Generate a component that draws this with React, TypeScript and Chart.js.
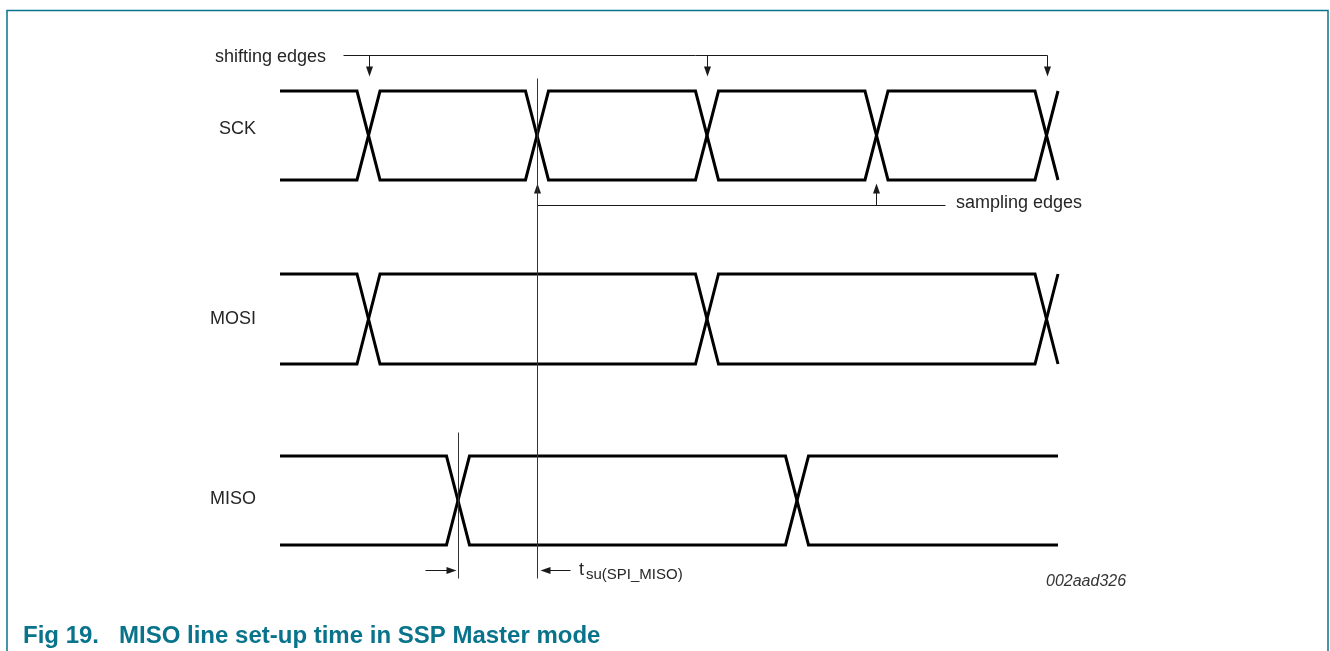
import React, { useEffect, useRef } from "react";
import { Chart, registerables } from "chart.js";

Chart.register(...registerables);

// ---- data (diagram units = time/level positions) ----
const SIGNAL_NAMES = ["SCK", "MOSI", "MISO"];
const SIGNAL_HIGH = [91, 274, 456];
const SIGNAL_LOW = [180, 364, 545];
const SIGNAL_START = [280, 280, 280];
const SIGNAL_END = [1058, 1058, 1058];
const SCK_EDGES = [368.5, 537, 707, 876.5, 1046.5];
const MOSI_EDGES = [368.5, 707, 1046.5];
const MISO_EDGES = [458, 797];
const RAMP_HALF = 11.5;
const SHIFTING_EDGES = [368.5, 707, 1046.5];
const SAMPLING_EDGES = [537, 876.5];
const SETUP_MARKERS = [458, 537];
const LABEL_TEXTS = ["shifting edges", "sampling edges", "t", "su(SPI_MISO)", "002aad326"];
const CAPTION = "Fig 19.   MISO line set-up time in SSP Master mode";

const EDGES = [SCK_EDGES, MOSI_EDGES, MISO_EDGES];

function buildWave(i: number) {
  const hi = SIGNAL_HIGH[i];
  const lo = SIGNAL_LOW[i];
  const start = SIGNAL_START[i];
  const end = SIGNAL_END[i];
  const a: any[] = [{ x: start, y: hi }];
  const b: any[] = [{ x: start, y: lo }];
  let ya = hi;
  let yb = lo;
  for (const e of EDGES[i]) {
    a.push({ x: e - RAMP_HALF, y: ya });
    b.push({ x: e - RAMP_HALF, y: yb });
    const t = ya;
    ya = yb;
    yb = t;
    a.push({ x: Math.min(e + RAMP_HALF, end), y: ya });
    b.push({ x: Math.min(e + RAMP_HALF, end), y: yb });
  }
  a.push({ x: end, y: ya });
  b.push({ x: end, y: yb });
  return [a, b];
}

const TEAL = "#08738b";
const INK = "#1a1a1a";

const annotationPlugin = {
  id: "timingAnnotations",
  afterDraw(chart: any) {
    const ctx = chart.ctx as CanvasRenderingContext2D;
    const xs = chart.scales.x;
    const ys = chart.scales.y;
    const X = (v: number) => xs.getPixelForValue(v);
    const Y = (v: number) => ys.getPixelForValue(v);
    ctx.save();

    // frame
    ctx.strokeStyle = TEAL;
    ctx.lineWidth = 1.5;
    ctx.beginPath();
    ctx.moveTo(7, 651);
    ctx.lineTo(7, 10.5);
    ctx.lineTo(1328, 10.5);
    ctx.lineTo(1328, 651);
    ctx.stroke();

    const line = (x1: number, y1: number, x2: number, y2: number, w = 1, c = INK) => {
      ctx.strokeStyle = c;
      ctx.lineWidth = w;
      ctx.beginPath();
      ctx.moveTo(Math.round(X(x1)) + 0.5, Math.round(Y(y1)) + 0.5);
      ctx.lineTo(Math.round(X(x2)) + 0.5, Math.round(Y(y2)) + 0.5);
      ctx.stroke();
    };
    const head = (x: number, y: number, dir: "down" | "up" | "left" | "right") => {
      const px = Math.round(X(x)) + 0.5;
      const py = Math.round(Y(y)) + 0.5;
      const L = 10;
      const W = 3.5;
      ctx.fillStyle = INK;
      ctx.beginPath();
      ctx.moveTo(px, py);
      if (dir === "down") {
        ctx.lineTo(px - W, py - L);
        ctx.lineTo(px + W, py - L);
      } else if (dir === "up") {
        ctx.lineTo(px - W, py + L);
        ctx.lineTo(px + W, py + L);
      } else if (dir === "right") {
        ctx.lineTo(px - L, py - W);
        ctx.lineTo(px - L, py + W);
      } else {
        ctx.lineTo(px + L, py - W);
        ctx.lineTo(px + L, py + W);
      }
      ctx.closePath();
      ctx.fill();
    };

    // shifting edges
    line(343, 55, SHIFTING_EDGES[SHIFTING_EDGES.length - 1], 55);
    for (const e of SHIFTING_EDGES) {
      line(e, 55, e, 70);
      head(e, 76, "down");
    }
    // sampling edges
    line(SAMPLING_EDGES[0], 205, 945, 205);
    for (const e of SAMPLING_EDGES) {
      line(e, 205, e, 190);
      head(e, 183, "up");
    }
    // vertical reference lines
    line(SETUP_MARKERS[1], 78, SETUP_MARKERS[1], 578, 1, "#333");
    line(SETUP_MARKERS[0], 432, SETUP_MARKERS[0], 578, 1, "#333");
    // setup arrows
    line(425, 570, SETUP_MARKERS[0] - 8, 570);
    head(SETUP_MARKERS[0] - 1.5, 570, "right");
    line(570, 570, SETUP_MARKERS[1] + 8, 570);
    head(SETUP_MARKERS[1] + 2.5, 570, "left");

    // texts
    ctx.fillStyle = "#262626";
    ctx.font = '18px "Liberation Sans", Arial, sans-serif';
    ctx.textBaseline = "alphabetic";
    ctx.textAlign = "left";
    ctx.fillText(LABEL_TEXTS[0], X(215), Y(62));
    ctx.fillText(LABEL_TEXTS[1], X(956), Y(208));
    ctx.fillText(LABEL_TEXTS[2], X(579), Y(575));
    ctx.font = '15px "Liberation Sans", Arial, sans-serif';
    ctx.fillText(LABEL_TEXTS[3], X(586), Y(579));

    ctx.textAlign = "right";
    ctx.font = '18px "Liberation Sans", Arial, sans-serif';
    const labelBase = [134, 324, 504];
    SIGNAL_NAMES.forEach((n, i) => ctx.fillText(n, X(256), Y(labelBase[i])));

    ctx.textAlign = "left";
    ctx.fillStyle = "#333";
    ctx.font = 'italic 16px "Liberation Sans", Arial, sans-serif';
    ctx.fillText(LABEL_TEXTS[4], X(1046), Y(586));

    ctx.fillStyle = TEAL;
    ctx.font = 'bold 24px "Liberation Sans", Arial, sans-serif';
    ctx.fillText(CAPTION, 23, 643);

    ctx.restore();
  },
};

export default function App() {
  const ref = useRef<HTMLCanvasElement | null>(null);
  useEffect(() => {
    if (!ref.current) return;
    const datasets: any[] = [];
    SIGNAL_NAMES.forEach((name, i) => {
      const [a, b] = buildWave(i);
      [a, b].forEach((d, k) =>
        datasets.push({
          label: name + (k ? " low" : " high"),
          data: d,
          showLine: true,
          borderColor: "#000",
          borderWidth: 3,
          pointRadius: 0,
          tension: 0,
          borderJoinStyle: "miter",
          fill: false,
        })
      );
    });
    const chart = new Chart(ref.current, {
      type: "scatter",
      data: { datasets },
      options: {
        animation: false,
        responsive: false,
        devicePixelRatio: 1,
        layout: { padding: 0 },
        plugins: { legend: { display: false }, tooltip: { enabled: false }, title: { display: false } },
        scales: {
          x: { type: "linear", min: 0, max: 1330, display: false },
          y: { type: "linear", min: 0, max: 651, reverse: true, display: false },
        },
        events: [],
      },
      plugins: [annotationPlugin],
    });
    return () => chart.destroy();
  }, []);
  return (
    <div style={{ position: "fixed", left: 0, top: 0, width: 1330, height: 651, background: "#fff" }}>
      <canvas ref={ref} width={1330} height={651} />
    </div>
  );
}
